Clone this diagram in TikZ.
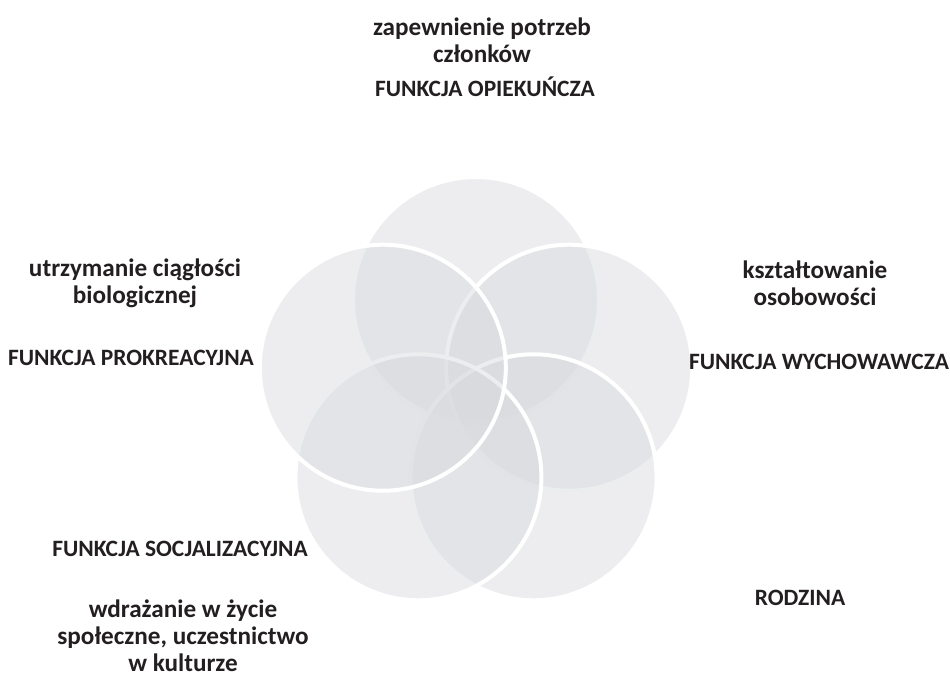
\documentclass[tikz,border=0pt]{standalone}
\usepackage{fontspec}
\setmainfont{Carlito}
\usetikzlibrary{calc}
\definecolor{kolo}{RGB}{214,216,220}
\definecolor{tekst}{RGB}{35,31,32}
\tikzset{
    funkcja/.style={font=\fontsize{20}{23}\selectfont\bfseries, text=tekst, align=center, inner sep=0pt},
    opis/.style={font=\fontsize{21.5}{23}\selectfont\bfseries, text=tekst, align=center, inner sep=0pt},
    kolko/.style={fill=kolo, fill opacity=0.45, draw=white, line width=3.4pt}
}

\begin{document}
\begin{tikzpicture}[x=0.03cm,y=-0.03cm]
    \useasboundingbox (0,0) rectangle (950,677);

    % srodek pieciokata
    \coordinate (S) at (476,398);

    % kola rodziny
    \foreach \kat/\nazwa in {-90/opiekuncza,-18/wychowawcza,54/rodzina,126/socjalizacyjna,198/prokreacyjna}{
        \coordinate (k-\nazwa) at ($(S)+(\kat:98)$);
        \draw[kolko] (k-\nazwa) circle (123);
    }

    % opisy
    \node[opis] (opis-opiekuncza) at (482,40) {zapewnienie potrzeb\\członków};
    \node[funkcja] (fun-opiekuncza) at (485,87) {FUNKCJA OPIEKUŃCZA};

    \node[opis] (opis-prokreacyjna) at (135,283) {utrzymanie ciągłości\\biologicznej};
    \node[funkcja] (fun-prokreacyjna) at (131,358) {FUNKCJA PROKREACYJNA};

    \node[opis] (opis-wychowawcza) at (815,283) {kształtowanie\\osobowości};
    \node[funkcja] (fun-wychowawcza) at (819,362) {FUNKCJA WYCHOWAWCZA};

    \node[funkcja] (fun-socjalizacyjna) at (180,549) {FUNKCJA SOCJALIZACYJNA};
    \node[opis] (opis-socjalizacyjna) at (183,636) {wdrażanie w życie\\społeczne, uczestnictwo\\w kulturze};

    \node[funkcja] (rodzina) at (800,598) {RODZINA};
\end{tikzpicture}
\end{document}
